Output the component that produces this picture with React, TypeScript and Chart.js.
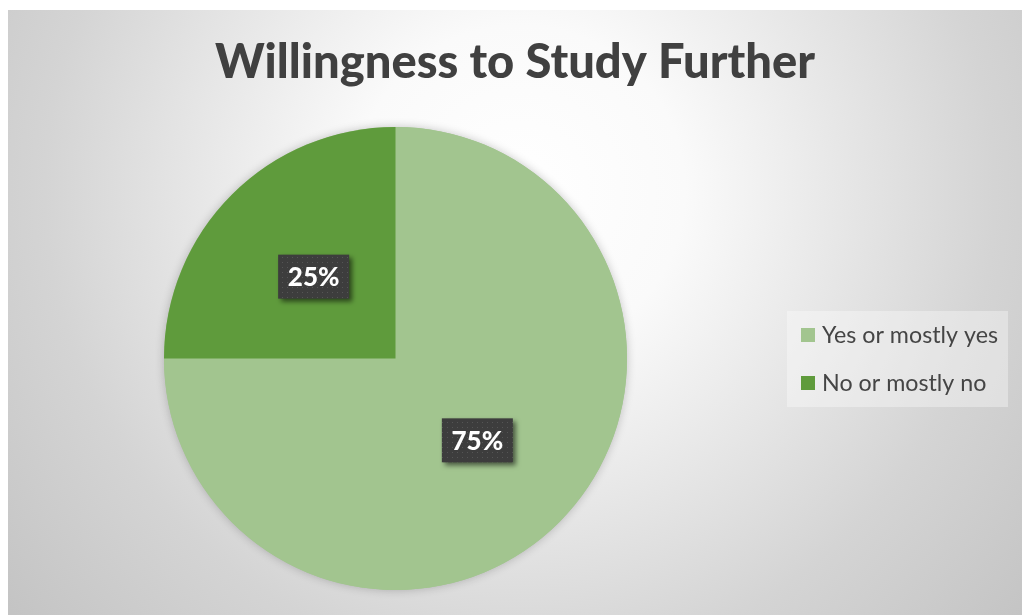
import React, { useEffect, useRef } from "react";
import { Chart, registerables } from "chart.js";

Chart.register(...registerables);

const TITLE = "Willingness to Study Further";
const categories = ["Yes or mostly yes", "No or mostly no"];
const shares = [75, 25];
const sliceColors = ["#A2C58F", "#5F9B3C"];

const W = 1022;
const H = 615;

function makeDotPattern(ctx: CanvasRenderingContext2D) {
  const c = document.createElement("canvas");
  c.width = 5;
  c.height = 5;
  const p = c.getContext("2d")!;
  p.fillStyle = "#3d3d3d";
  p.fillRect(0, 0, 5, 5);
  p.fillStyle = "#555555";
  p.fillRect(2, 2, 1, 1);
  return ctx.createPattern(c, "repeat");
}

const backgroundPlugin = {
  id: "bgPlugin",
  beforeDraw(chart: any) {
    const ctx = chart.ctx as CanvasRenderingContext2D;
    ctx.save();
    ctx.fillStyle = "#ffffff";
    ctx.fillRect(0, 0, W, H);
    const g = ctx.createRadialGradient(520, 190, 0, 520, 190, 660);
    g.addColorStop(0, "#ffffff");
    g.addColorStop(0.25, "#fafafa");
    g.addColorStop(0.72, "#d4d4d4");
    g.addColorStop(1, "#c4c4c4");
    ctx.fillStyle = g;
    ctx.fillRect(8, 10, W - 8, H - 10);
    ctx.restore();
  },
  beforeDatasetsDraw(chart: any) {
    const ctx = chart.ctx as CanvasRenderingContext2D;
    const arc = chart.getDatasetMeta(0).data[0];
    if (!arc) return;
    ctx.save();
    ctx.shadowColor = "rgba(0,0,0,0.22)";
    ctx.shadowBlur = 10;
    ctx.fillStyle = sliceColors[0];
    ctx.beginPath();
    ctx.arc(arc.x, arc.y, arc.outerRadius, 0, Math.PI * 2);
    ctx.fill();
    ctx.restore();
  },
  afterDatasetsDraw(chart: any) {
    const ctx = chart.ctx as CanvasRenderingContext2D;
    const meta = chart.getDatasetMeta(0);
    const pattern = makeDotPattern(ctx);
    meta.data.forEach((arc: any, i: number) => {
      const pos = arc.tooltipPosition(false);
      const bw = 71;
      const bh = 44;
      ctx.save();
      ctx.shadowColor = "rgba(0,0,0,0.55)";
      ctx.shadowBlur = 5;
      ctx.shadowOffsetX = 3;
      ctx.shadowOffsetY = 3;
      ctx.fillStyle = pattern || "#3f3f3f";
      ctx.fillRect(pos.x - bw / 2, pos.y - bh / 2, bw, bh);
      ctx.restore();
      ctx.save();
      ctx.fillStyle = "#ffffff";
      ctx.font = "900 26px Lato";
      ctx.textAlign = "center";
      ctx.textBaseline = "middle";
      ctx.fillText(`${shares[i]}%`, pos.x, pos.y + 1);
      ctx.restore();
    });
  },
  afterDraw(chart: any) {
    const ctx = chart.ctx as CanvasRenderingContext2D;
    // title
    ctx.save();
    ctx.font = "900 48px Lato";
    ctx.fillStyle = "#404040";
    ctx.textAlign = "center";
    ctx.textBaseline = "alphabetic";
    const tw = ctx.measureText(TITLE).width;
    const sx = 600 / tw;
    ctx.translate(515, 78);
    ctx.scale(sx, 1);
    ctx.fillText(TITLE, 0, 0);
    ctx.restore();

    // legend
    ctx.save();
    ctx.fillStyle = "rgba(255,255,255,0.35)";
    ctx.fillRect(787, 311, 221, 96);
    ctx.font = "23px Lato";
    const lsx = 176 / ctx.measureText(categories[0]).width;
    categories.forEach((label, i) => {
      const cy = 335 + i * 48;
      ctx.fillStyle = sliceColors[i];
      ctx.fillRect(801, cy - 7, 14, 14);
      ctx.save();
      ctx.fillStyle = "#454545";
      ctx.textAlign = "left";
      ctx.textBaseline = "middle";
      ctx.translate(822, cy + 1);
      ctx.scale(lsx, 1);
      ctx.fillText(label, 0, 0);
      ctx.restore();
    });
    ctx.restore();
  },
};

export default function App() {
  const ref = useRef<HTMLCanvasElement | null>(null);
  useEffect(() => {
    if (!ref.current) return;
    const chart = new Chart(ref.current, {
      type: "pie",
      data: {
        labels: categories,
        datasets: [
          {
            data: shares,
            backgroundColor: sliceColors,
            borderWidth: 0,
          },
        ],
      },
      options: {
        responsive: false,
        animation: false,
        layout: {
          padding: { left: 164, top: 127, right: W - 627, bottom: H - 590 },
        },
        plugins: {
          legend: { display: false },
          title: { display: false },
          tooltip: { enabled: false },
        },
      },
      plugins: [backgroundPlugin],
    });
    return () => chart.destroy();
  }, []);
  return (
    <div style={{ position: "absolute", left: 0, top: 0, width: W, height: H, background: "#fff" }}>
      <canvas ref={ref} width={W} height={H} style={{ display: "block" }} />
    </div>
  );
}
